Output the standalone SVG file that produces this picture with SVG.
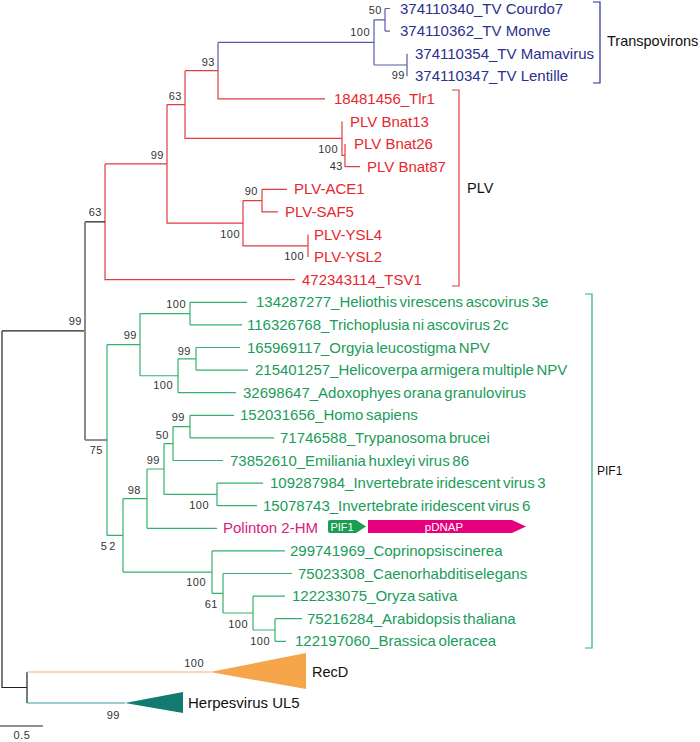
<svg xmlns="http://www.w3.org/2000/svg" width="700" height="742" viewBox="0 0 700 742">
<style>
text{font-family:"Liberation Sans",Arial,sans-serif}
.lf{font-size:15px}
.tv{fill:#2b2f8e}
.pl{fill:#e8262d}
.gr{fill:#1a9c5a;word-spacing:-1.5px}
.tt{word-spacing:-3.5px}
.bs{font-size:11px;fill:#333;letter-spacing:0.5px;text-anchor:end}
.cl{font-size:14.5px;fill:#111}
.br{fill:none;stroke-width:1.2}
.b{fill:none;stroke:#5b5ba8;stroke-width:1.2}
.r{fill:none;stroke:#e23b40;stroke-width:1.2}
.g{fill:none;stroke:#35b070;stroke-width:1.2}
.k{fill:none;stroke:#222;stroke-width:1.2}
</style>
<rect width="700" height="742" fill="#fff"/>
<g id="connectors">
<path class="b" d="M218,42.4H374M374,19.8V65M374,19.8H385M385,8.5V31.1M385,8.5H390M385,31.1H390M374,65H407M407,53.7V76.3M218,42.4V70.65"/>
<path class="r" d="M218,70.65V98.9H325M185,70.65H218M185,70.65V138.45H342M342,121.5V155.4H345M345,144.1V166.7H360M167,104.55H185M167,104.55V223.2H243M243,200.6V245.8H308M243,200.6H262M262,189.3V211.9H278M262,189.3H287M308,234.5V257.1M105,163.9H167M105,163.9V279.7H295"/>
<path class="k" d="M85,221.8H105M2,330.9H85M85,440H107M2,330.9V687.5H27M27,672V703"/>
<path fill="none" stroke="#8a8a8a" stroke-width="2" d="M85,221.8V440"/>
<path class="g" d="M107,344.7V535.4M107,344.7H140M140,313.6V375.75M140,313.6H190M190,302.3V324.9M190,302.3H247M190,324.9H242M140,375.75H178M178,358.8V392.7M178,392.7H236M178,358.8H196M196,347.5V370.1M196,347.5H240M196,370.1H248M107,535.4H123M123,498.6V572.1M123,498.6H147M147,469V528.3M147,528.3H217M147,469H164M164,443.55V494.4M164,494.4H217M217,483.1V505.7M217,483.1H263M217,505.7H257M164,443.55H173M173,426.6V460.5M173,460.5H223M173,426.6H190M190,415.3V437.9M190,415.3H234M190,437.9H274M123,572.1H212M212,550.9V593.3M212,550.9H285M212,593.3H223M223,573.5V613M223,573.5H292M223,613H253M253,596.1V630M253,596.1H285M253,630H275M275,618.7V641.3M275,618.7H302M275,641.3H286"/>
<path fill="none" stroke="#f4b26b" stroke-width="1.2" d="M27,672H210"/>
<path fill="none" stroke="#3f9c9c" stroke-width="1.2" d="M27,703H125"/>
</g>
<g id="bootstrap">
<text class="bs" x="382" y="14">50</text>
<text class="bs" x="370" y="36">100</text>
<text class="bs" x="405" y="79">99</text>
<text class="bs" x="215" y="66">93</text>
<text class="bs" x="182" y="100">63</text>
<text class="bs" x="164" y="159">99</text>
<text class="bs" x="338" y="153">100</text>
<text class="bs" x="343" y="170">43</text>
<text class="bs" x="258" y="195">90</text>
<text class="bs" x="240" y="238">100</text>
<text class="bs" x="304" y="260">100</text>
<text class="bs" x="102" y="216">63</text>
<text class="bs" x="82" y="325">99</text>
<text class="bs" x="186" y="308">100</text>
<text class="bs" x="137" y="339">99</text>
<text class="bs" x="191" y="355">99</text>
<text class="bs" x="173" y="389">100</text>
<text class="bs" x="185" y="421">99</text>
<text class="bs" x="169" y="439">50</text>
<text class="bs" x="160" y="464">99</text>
<text class="bs" x="103" y="454">75</text>
<text class="bs" x="141" y="494">98</text>
<text class="bs" x="209" y="509">100</text>
<text class="bs" x="118" y="550" style="letter-spacing:2.5px">52</text>
<text class="bs" x="206" y="586">100</text>
<text class="bs" x="218" y="608">61</text>
<text class="bs" x="248" y="628">100</text>
<text class="bs" x="270" y="645">100</text>
<text class="bs" x="204" y="667">100</text>
<text class="bs" x="120" y="719">99</text>
</g>
<g id="leaf-courdo7"><text class="lf tv" x="400" y="13.5">374110340_TV Courdo7</text></g>
<g id="leaf-monve"><text class="lf tv" x="400" y="36.1">374110362_TV Monve</text></g>
<g id="leaf-mamavirus"><text class="lf tv" x="415" y="58.7">374110354_TV Mamavirus</text></g>
<g id="leaf-lentille"><text class="lf tv" x="415" y="81.3">374110347_TV Lentille</text></g>
<g id="leaf-tlr1"><text class="lf pl" x="334" y="103.9">18481456_Tlr1</text></g>
<g id="leaf-bnat13"><text class="lf pl" x="350" y="126.5">PLV Bnat13</text></g>
<g id="leaf-bnat26"><text class="lf pl" x="354" y="149.1">PLV Bnat26</text></g>
<g id="leaf-bnat87"><text class="lf pl" x="367" y="171.7">PLV Bnat87</text></g>
<g id="leaf-ace1"><text class="lf pl" x="294" y="194.3">PLV-ACE1</text></g>
<g id="leaf-saf5"><text class="lf pl" x="285" y="216.9">PLV-SAF5</text></g>
<g id="leaf-ysl4"><text class="lf pl" x="314" y="239.5">PLV-YSL4</text></g>
<g id="leaf-ysl2"><text class="lf pl" x="314" y="262.1">PLV-YSL2</text></g>
<g id="leaf-tsv1"><text class="lf pl" x="302" y="284.7">472343114_TSV1</text></g>
<g id="leaf-heliothis"><text class="lf gr" x="256" y="307.3">134287277_Heliothis virescens ascovirus 3e</text></g>
<g id="leaf-trichoplusia"><text class="lf gr" x="247" y="329.9">116326768_Trichoplusia ni ascovirus 2c</text></g>
<g id="leaf-orgyia"><text class="lf gr" x="247" y="352.5">165969117_Orgyia leucostigma NPV</text></g>
<g id="leaf-helicoverpa"><text class="lf gr" x="255" y="375.1">215401257_Helicoverpa armigera multiple NPV</text></g>
<g id="leaf-adoxophyes"><text class="lf gr" x="243" y="397.7">32698647_Adoxophyes orana granulovirus</text></g>
<g id="leaf-homo"><text class="lf gr" x="240" y="420.3">152031656_Homo sapiens</text></g>
<g id="leaf-trypanosoma"><text class="lf gr" x="280" y="442.9">71746588_Trypanosoma brucei</text></g>
<g id="leaf-emiliania"><text class="lf gr" x="230" y="465.5">73852610_Emiliania huxleyi virus 86</text></g>
<g id="leaf-iiv3"><text class="lf gr" x="270" y="488.1">109287984_Invertebrate iridescent virus 3</text></g>
<g id="leaf-iiv6"><text class="lf gr" x="263" y="510.7">15078743_Invertebrate iridescent virus 6</text></g>
<g id="leaf-polinton">
<text class="lf" x="223" y="533.3" fill="#d9207f">Polinton 2-HM</text>
<path d="M330,520H356L366,526.5L356,533H330Q328,533 328,531V522Q328,520 330,520Z" fill="#1a9e52"/>
<text x="342" y="530.5" font-size="11" fill="#fff" text-anchor="middle">PIF1</text>
<polygon points="368,520 512,520 526,526.5 512,533 368,533" fill="#e6007e"/>
<text x="444" y="531" font-size="11.5" fill="#fff" text-anchor="middle">pDNAP</text>
</g>
<g id="leaf-coprinopsis"><text class="lf gr tt" x="290" y="555.9">299741969_Coprinopsis cinerea</text></g>
<g id="leaf-caenorhabditis"><text class="lf gr tt" x="298" y="578.5">75023308_Caenorhabditis elegans</text></g>
<g id="leaf-oryza"><text class="lf gr" x="292" y="601.1">122233075_Oryza sativa</text></g>
<g id="leaf-arabidopsis"><text class="lf gr" x="307" y="623.7">75216284_Arabidopsis thaliana</text></g>
<g id="leaf-brassica"><text class="lf gr" x="295" y="646.3">122197060_Brassica oleracea</text></g>
<g id="clade-recd">
<polygon points="210,672 306,653 306,689" fill="#f7a54a"/>
<text class="cl" x="312" y="677" font-size="15">RecD</text>
</g>
<g id="clade-herpes">
<polygon points="125,703 183,692 183,713" fill="#137a6f"/>
<text class="cl" x="188" y="708" style="font-size:15px">Herpesvirus UL5</text>
</g>
<g id="group-transpovirons">
<path class="br" stroke="#2b2f8e" d="M593,2H600V83H593"/>
<text class="cl" x="607" y="46">Transpovirons</text>
</g>
<g id="group-plv">
<path class="br" stroke="#e23b40" d="M452,90H459V286H452"/>
<text class="cl" x="467" y="193">PLV</text>
</g>
<g id="group-pif1">
<path class="br" stroke="#35b070" d="M585,294H592V648H585"/>
<text class="cl" x="597" y="475" style="font-size:12px">PIF1</text>
</g>
<g id="scale">
<path d="M0,726H43" stroke="#222" stroke-width="1.2"/>
<text x="22" y="739" font-size="11" fill="#333" text-anchor="middle" style="letter-spacing:0.5px">0.5</text>
</g>
</svg>
